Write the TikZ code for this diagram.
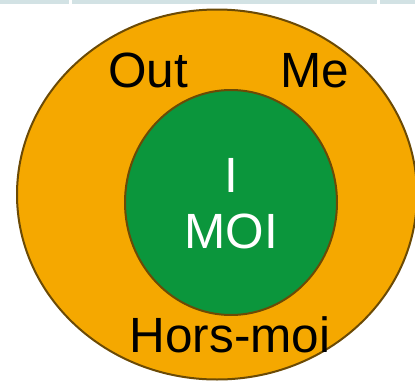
\documentclass[tikz,border=0pt]{standalone}
\usepackage{fontspec}
\setmainfont{Liberation Sans}
\usetikzlibrary{shapes.geometric}
\definecolor{barc}{HTML}{D2E2E4}
\definecolor{orangec}{HTML}{F5A800}
\definecolor{greenc}{HTML}{0B963C}
\definecolor{edgec}{HTML}{6B4A05}
\tikzset{
  bar/.style={fill=barc, draw=none},
  ring/.style={ellipse, draw=edgec, line width=2pt, inner sep=0pt},
  lbl/.style={anchor=base, inner sep=0pt, font=\fontsize{49.5}{52}\selectfont},
}
\begin{document}
\begin{tikzpicture}[x=1pt,y=-1pt]
\useasboundingbox (0,0) rectangle (415,383);
\fill[bar] (0,0) rectangle (69,4);
\fill[bar] (72,0) rectangle (377,4);
\fill[bar] (380,0) rectangle (415,4);
\node[ring, fill=orangec, minimum width=400pt, minimum height=370pt] (outer) at (217,194.5) {};
\node[ring, fill=greenc, minimum width=212pt, minimum height=225pt] (inner) at (231,202.5) {};
\node[lbl] (out) at (148,87) {Out};
\node[lbl] (me) at (314.5,87) {Me};
\node[lbl, text=white] (i) at (231,192) {I};
\node[lbl, text=white] (moi) at (231,248) {MOI};
\node[lbl] (hors) at (230,352) {Hors-moi};
\end{tikzpicture}
\end{document}
